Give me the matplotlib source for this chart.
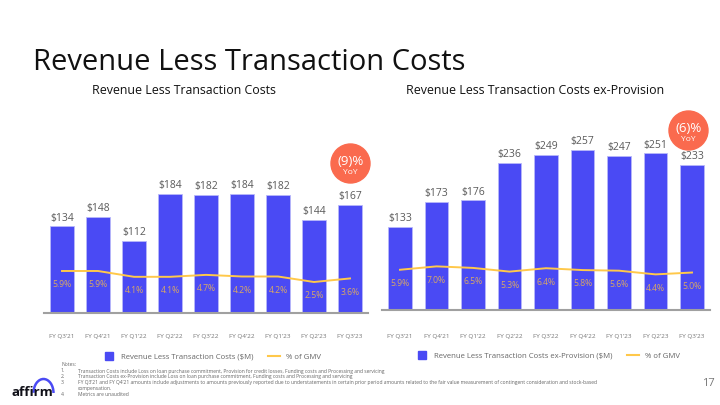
import matplotlib
matplotlib.use('Agg')
import matplotlib.pyplot as plt
from matplotlib.lines import Line2D
from matplotlib.patches import Ellipse, Arc

plt.rcParams['font.family'] = ['Open Sans', 'DejaVu Sans']

# data
quarters = ["FY Q3’21", "FY Q4’21", "FY Q1’22", "FY Q2’22", "FY Q3’22",
            "FY Q4’22", "FY Q1’23", "FY Q2’23", "FY Q3’23"]
rltc = [134, 148, 112, 184, 182, 184, 182, 144, 167]
rltc_gmv = [5.9, 5.9, 4.1, 4.1, 4.7, 4.2, 4.2, 2.5, 3.6]
rltc_ex = [133, 173, 176, 236, 249, 257, 247, 251, 233]
rltc_ex_gmv = [5.9, 7.0, 6.5, 5.3, 6.4, 5.8, 5.6, 4.4, 5.0]

notes = [
    ("1.", "Transaction Costs include Loss on loan purchase commitment, Provision for credit losses, Funding costs and Processing and servicing"),
    ("2.", "Transaction Costs ex-Provision include Loss on loan purchase commitment, Funding costs and Processing and servicing"),
    ("3.", "FY Q3’21 and FY Q4’21 amounts include adjustments to amounts previously reported due to understatements in certain prior period amounts related to the fair value measurement of contingent consideration and stock-based"),
    ("", "compensation."),
    ("4.", "Metrics are unaudited"),
]

BLUE = '#4A4AF4'
GOLD = '#FFC84A'
LBL = '#D9A865'
GREY = '#5A5A5A'
RED = '#FA6A4E'

W, H = 720, 405
fig = plt.figure(figsize=(7.2, 4.05), dpi=100)


def px(x0, y0, x1, y1):
    # pixel box (top-left origin) -> figure fraction rect
    return [x0 / W, 1 - y1 / H, (x1 - x0) / W, (y1 - y0) / H]


def panel(rect, vals, pcts, ymax, y2lim, pad, legend_label, legend_xy):
    ax = fig.add_axes(rect)
    x = list(range(len(vals)))
    ax.bar(x, vals, width=0.64, color=BLUE, edgecolor='#B8B8FA', linewidth=0.6, zorder=2)
    for i, v in enumerate(vals):
        ax.annotate(f"${v}", (i, v), xytext=(0, 2), textcoords='offset points',
                    ha='center', va='bottom', fontsize=7.5, color=GREY)
    ax.set_xlim(-0.5, 8.5)
    ax.set_ylim(0, ymax)
    ax.set_yticks([])
    ax.set_xticks(x)
    ax.set_xticklabels(quarters, fontsize=4.6, color='#777777')
    ax.tick_params(axis='x', length=0, pad=pad)
    for s in ['top', 'right', 'left']:
        ax.spines[s].set_visible(False)
    ax.spines['bottom'].set_color('#A0A0A0')
    ax.spines['bottom'].set_linewidth(1.5)

    ax2 = ax.twinx()
    ax2.plot(x, pcts, color=GOLD, lw=1.4, zorder=3)
    for i, p in enumerate(pcts):
        ax2.annotate(f"{p:.1f}%", (i, p), xytext=(0, -10), textcoords='offset points',
                     ha='center', va='center', fontsize=6.2, color=LBL)
    ax2.set_ylim(*y2lim)
    ax2.set_xlim(-0.5, 8.5)
    ax2.axis('off')

    handles = [Line2D([], [], marker='s', markersize=6, color=BLUE, linestyle='none'),
               Line2D([], [], color=GOLD, lw=1.5)]
    fig.legend(handles, [legend_label, '% of GMV'], ncol=2, loc='center',
               bbox_to_anchor=legend_xy, frameon=False, fontsize=5.6,
               handlelength=1.6, handletextpad=0.8, columnspacing=1.8,
               labelcolor='#666666')
    return ax


panel(px(44, 110, 368, 313), rltc, rltc_gmv, 203 / 0.647, (-7.07, 55.6), 15,
      'Revenue Less Transaction Costs ($M)', (212 / W, 1 - 357 / H))
panel(px(381.75, 110, 710.25, 310.3), rltc_ex, rltc_ex_gmv, 200.3 / 0.625, (-7.27, 57.8), 17,
      'Revenue Less Transaction Costs ex-Provision ($M)', (548 / W, 1 - 356 / H))

# titles
fig.text(33 / W, 1 - 63 / H, 'Revenue Less Transaction Costs', fontsize=21,
         color='#111111', va='center', ha='left')
fig.text(184 / W, 1 - 91 / H, 'Revenue Less Transaction Costs', fontsize=8.9,
         color='#111111', va='center', ha='center')
fig.text(535 / W, 1 - 91 / H, 'Revenue Less Transaction Costs ex-Provision', fontsize=8.9,
         color='#111111', va='center', ha='center')

# YoY badges
for cx, cy, txt in [(350.5, 163.5, '(9)%'), (688.5, 130.5, '(6)%')]:
    fig.patches.append(Ellipse((cx / W, 1 - cy / H), 39 / W, 39 / H,
                               transform=fig.transFigure, color=RED, zorder=5))
    fig.text(cx / W, 1 - (cy - 2) / H, txt, fontsize=9.5, color='white',
             ha='center', va='center', zorder=6)
    fig.text(cx / W, 1 - (cy + 9) / H, 'YoY', fontsize=6, color='white',
             ha='center', va='center', zorder=6)

# notes
fig.text(61 / W, 1 - 365 / H, 'Notes:', fontsize=3.6, color='#666666', va='center')
for k, (num, line) in enumerate(notes):
    y = 371 + k * 5.8
    fig.text(61 / W, 1 - y / H, num, fontsize=3.6, color='#666666', va='center')
    fig.text(78 / W, 1 - y / H, line, fontsize=3.6, color='#666666', va='center')

fig.text(708 / W, 1 - 383 / H, '17', fontsize=8, color='#777777', ha='center', va='center')

# logo
fig.text(12 / W, 1 - 392 / H, 'affirm', fontsize=9.6, fontweight='bold',
         color='#101018', va='center', ha='left')
fig.patches.append(Arc((43.5 / W, 1 - 393 / H), 20 / W, 28 / H, theta1=0, theta2=178,
                       transform=fig.transFigure, color=BLUE, lw=1.8))

fig.savefig('out.png', dpi=100)
